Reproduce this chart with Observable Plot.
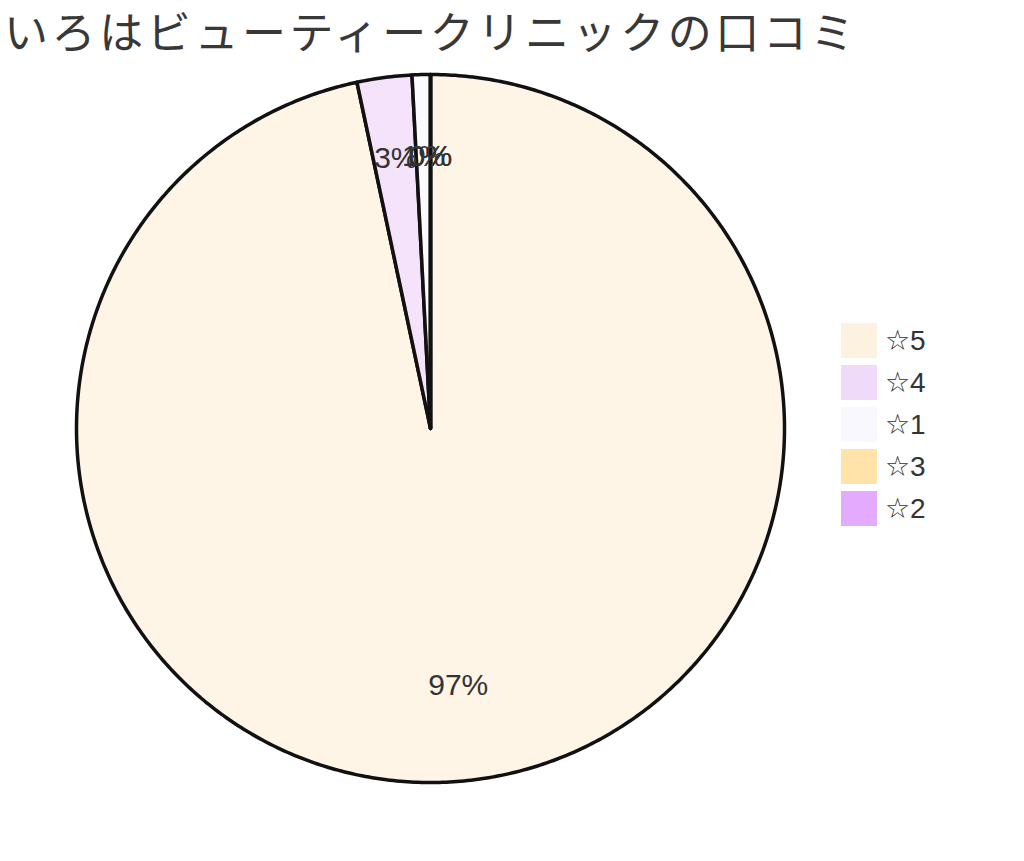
<!DOCTYPE html>
<html>
<head>
<meta charset="utf-8">
<script src="https://cdn.jsdelivr.net/npm/d3@7"></script>
<script src="https://cdn.jsdelivr.net/npm/@observablehq/plot@0.6"></script>
<style>
  html, body { margin: 0; padding: 0; background: #fff; }
  #wrap { position: relative; width: 1024px; height: 861px; overflow: hidden; }
  #title { position: absolute; left: 4px; top: 0px; line-height: 60px; font-family: "Noto Sans CJK JP", sans-serif; font-size: 44px; color: #383838; letter-spacing: 3.6px; white-space: nowrap; }
  #chart { position: absolute; left: 71px; top: 69px; }
  #legend { position: absolute; left: 841px; top: 319.5px; font-family: "Liberation Sans", "DejaVu Sans", sans-serif; font-size: 28px; color: #333; }
  .item { display: flex; align-items: center; height: 42px; }
  .sw { width: 36px; height: 35px; margin-right: 8px; }
</style>
</head>
<body>
<div id="wrap">
  <div id="title"></div>
  <div id="chart"></div>
  <div id="legend"></div>
</div>
<script>
const title = "いろはビューティークリニックの口コミ";
const categories = ["☆5", "☆4", "☆1", "☆3", "☆2"];
const counts = [116, 3, 1, 0, 0];
const colors = ["#FDF2DF", "#F0DAF9", "#F9F8FE", "#FFE3A8", "#E4AAFE"];

document.getElementById("title").textContent = title;

const total = d3.sum(counts);
const arcs = d3.pie().sort(null).value(d => d.count)(
  categories.map((c, i) => ({category: c, count: counts[i]}))
);

// polygon points for each slice (angles from d3.pie, unit radius)
const poly = [];
arcs.forEach(a => {
  const n = Math.max(2, Math.ceil((a.endAngle - a.startAngle) / 0.01));
  poly.push({category: a.data.category, x: 0, y: 0});
  for (let k = 0; k <= n; k++) {
    const t = a.startAngle + (a.endAngle - a.startAngle) * k / n;
    poly.push({category: a.data.category, x: Math.sin(t), y: Math.cos(t)});
  }
});

const labels = arcs.map(a => {
  const m = (a.startAngle + a.endAngle) / 2;
  return {category: a.data.category, x: 0.75 * Math.sin(m), y: 0.75 * Math.cos(m),
          text: Math.round(a.data.count / total * 100) + "%"};
});

const size = 718;
const plot = Plot.plot({
  width: size, height: size,
  margin: 5,
  x: {domain: [-1, 1], axis: null},
  y: {domain: [-1, 1], axis: null},
  color: {domain: categories, range: colors},
  style: {background: "transparent", overflow: "visible"},
  marks: [
    Plot.line(poly, {x: "x", y: "y", z: "category", fill: "category", fillOpacity: 0.75,
      stroke: "#111", strokeWidth: 3.5, curve: "linear-closed", strokeLinejoin: "round"}),
    Plot.text(labels, {x: "x", y: "y", text: "text", fill: "#333", fontSize: 30, dy: -7,
      fontFamily: "Liberation Sans, Arial, sans-serif"})
  ]
});
document.getElementById("chart").appendChild(plot);

const legend = document.getElementById("legend");
categories.forEach((c, i) => {
  const it = document.createElement("div");
  it.className = "item";
  const sw = document.createElement("div");
  sw.className = "sw";
  sw.style.background = colors[i];
  const tx = document.createElement("span");
  tx.textContent = c;
  it.appendChild(sw); it.appendChild(tx);
  legend.appendChild(it);
});
</script>
</body>
</html>
